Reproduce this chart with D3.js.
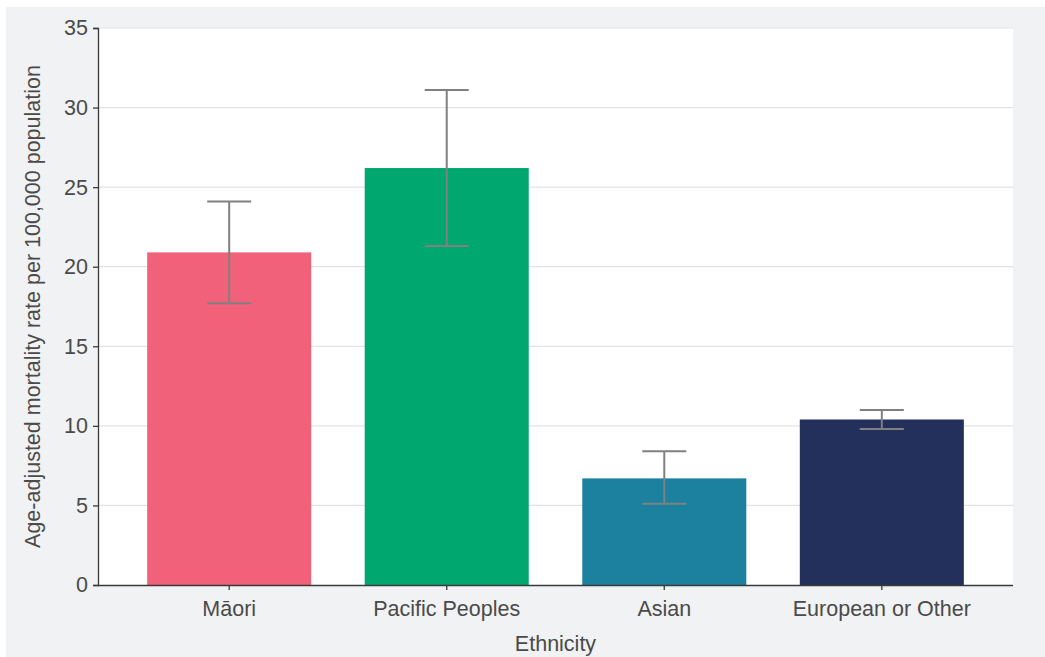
<!DOCTYPE html>
<html>
<head>
<meta charset="utf-8">
<script src="https://cdn.jsdelivr.net/npm/d3@7"></script>
<style>
  html, body { margin: 0; padding: 0; background: #ffffff; }
  svg { display: block; }
  text { font-family: "Liberation Sans", Arial, Helvetica, sans-serif; }
</style>
</head>
<body>
<svg id="chart" width="1045" height="657"></svg>
<script>
const categories = ["Māori", "Pacific Peoples", "Asian", "European or Other"];
const rates = [20.9, 26.2, 6.7, 10.4];
const lowerCI = [17.7, 21.3, 5.1, 9.8];
const upperCI = [24.1, 31.1, 8.4, 11.0];
const colors = ["#F2617A", "#00A76F", "#1B819F", "#23305B"];
const yTicks = [0, 5, 10, 15, 20, 25, 30, 35];
const xTitle = "Ethnicity";
const yTitle = "Age-adjusted mortality rate per 100,000 population";

const data = categories.map((c, i) => ({ cat: c, v: rates[i], lo: lowerCI[i], hi: upperCI[i], col: colors[i] }));

const svg = d3.select("#chart");
const W = 1045, H = 657;
const m = { left: 98, right: 32, top: 28, bottom: 72 };
const FS = "21.5px";

svg.append("rect").attr("x", 6).attr("y", 7).attr("width", W - 6).attr("height", H - 7).attr("fill", "#f1f2f4");

const x = d3.scaleBand().domain(categories).range([m.left, W - m.right]).paddingInner(0.246).paddingOuter(0.226);
const y = d3.scaleLinear().domain([0, 35]).range([H - m.bottom, m.top]);

svg.append("rect").attr("x", m.left).attr("y", m.top)
  .attr("width", W - m.right - m.left).attr("height", H - m.bottom - m.top).attr("fill", "#ffffff");

// gridlines
svg.append("g").selectAll("line").data(yTicks.filter(t => t > 0)).join("line")
  .attr("x1", m.left).attr("x2", W - m.right)
  .attr("y1", d => y(d)).attr("y2", d => y(d))
  .attr("stroke", "#e3e3e3").attr("stroke-width", 1.2);

// bars
svg.append("g").selectAll("rect").data(data).join("rect")
  .attr("x", d => x(d.cat)).attr("width", x.bandwidth())
  .attr("y", d => y(d.v)).attr("height", d => y(0) - y(d.v))
  .attr("fill", d => d.col);

// error bars
const eb = svg.append("g").attr("stroke", "#808080").attr("stroke-width", 2).attr("fill", "none");
const capW = 22;
data.forEach(d => {
  const cx = x(d.cat) + x.bandwidth() / 2;
  eb.append("line").attr("x1", cx).attr("x2", cx).attr("y1", y(d.lo)).attr("y2", y(d.hi));
  eb.append("line").attr("x1", cx - capW).attr("x2", cx + capW).attr("y1", y(d.lo)).attr("y2", y(d.lo));
  eb.append("line").attr("x1", cx - capW).attr("x2", cx + capW).attr("y1", y(d.hi)).attr("y2", y(d.hi));
});

// axes
const yAxis = svg.append("g").attr("transform", `translate(${m.left},0)`)
  .call(d3.axisLeft(y).tickValues(yTicks).tickSizeOuter(0).tickSize(5).tickPadding(5));
const xAxis = svg.append("g").attr("transform", `translate(0,${H - m.bottom})`)
  .call(d3.axisBottom(x).tickSizeOuter(0).tickSize(5).tickPadding(11));
[yAxis, xAxis].forEach(g => {
  g.select(".domain").attr("stroke", "#3a3a3a").attr("stroke-width", 1.3);
  g.selectAll(".tick line").attr("stroke", "#3a3a3a").attr("stroke-width", 1.3);
  g.selectAll(".tick text").attr("fill", "#4a4a4a").style("font-size", FS)
   .style("font-family", '"Liberation Sans", Arial, sans-serif');
});
xAxis.select(".domain").attr("d", `M${m.left},0.5H${W - m.right}`);

svg.append("text").attr("x", (m.left + W - m.right) / 2).attr("y", 651)
  .attr("text-anchor", "middle").attr("fill", "#4a4a4a").style("font-size", FS).text(xTitle);
svg.append("text").attr("transform", `translate(40,${(m.top + H - m.bottom) / 2}) rotate(-90)`)
  .attr("text-anchor", "middle").attr("fill", "#4a4a4a").style("font-size", FS).text(yTitle);
</script>
</body>
</html>
